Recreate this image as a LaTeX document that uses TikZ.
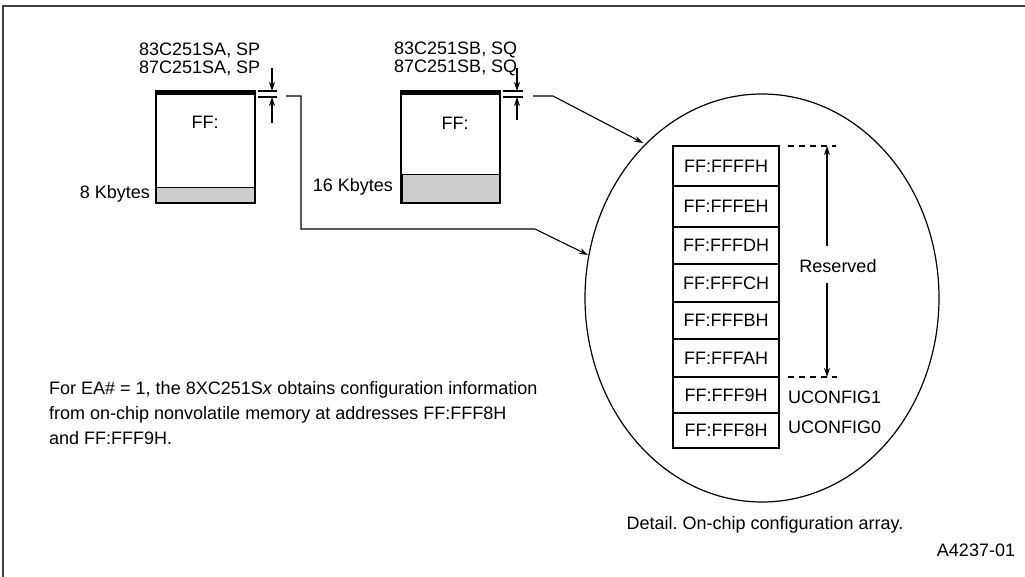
\documentclass[tikz,border=0pt]{standalone}
\usepackage{fontspec}
\setmainfont{Liberation Sans}
\usetikzlibrary{arrows.meta}
\frenchspacing
\begin{document}
\begin{tikzpicture}[x=1pt,y=-1pt,
  txt/.style={font=\fontsize{18}{25}\selectfont, inner sep=0pt},
  cell/.style={draw, line width=2.2pt, minimum width=106pt, inner sep=0pt, font=\fontsize{18}{20}\selectfont},
  memblock/.style={draw, line width=2.2pt, minimum width=99pt, minimum height=110pt, inner sep=0pt},
  arr/.style={line width=1.1pt, -{Stealth[length=9pt,width=6pt]}},
  thinln/.style={line width=1.1pt},
  dashln/.style={line width=1.1pt, dash pattern=on 6pt off 5pt},
  band/.style={fill=black!20, draw, line width=1pt}
]
\useasboundingbox (0,0) rectangle (1025,577);
\draw[line width=1.5pt, black!75] (3,577) -- (3,6) -- (1025,6);

% ---- block 1 ----
\draw[band] (156,188) rectangle (255,203);
\node[memblock] (b1) at (205.5,148) {};
\draw[line width=5pt] ([yshift=-1pt]b1.north west) -- ([yshift=-1pt]b1.north east);
\node[txt] (ff1) at (205,122) {FF:};
\node[txt, anchor=east] (k8) at (150,194) {8 Kbytes};
\node[txt, anchor=west] (l1a) at (139,50) {83C251SA, SP};
\node[txt, anchor=west] (l1b) at (139,68) {87C251SA, SP};
\draw[thinln] (258,91) -- (277,91);
\draw[thinln] (258,97) -- (277,97);
\draw[arr] (272,68) -- (272,91);
\draw[arr] (272,123) -- (272,97);

% ---- block 2 ----
\draw[band] (402,175) rectangle (499,203);
\node[memblock] (b2) at (450.5,148) {};
\draw[line width=5pt] ([yshift=-1pt]b2.north west) -- ([yshift=-1pt]b2.north east);
\node[txt] (ff2) at (455,123) {FF:};
\node[txt, anchor=east] (k16) at (393,187) {16 Kbytes};
\node[txt, anchor=west] (l2a) at (394,50) {83C251SB, SQ};
\node[txt, anchor=west] (l2b) at (394,68) {87C251SB, SQ};
\draw[thinln] (503,91) -- (523,91);
\draw[thinln] (503,97) -- (523,97);
\draw[arr] (517,68) -- (517,91);
\draw[arr] (517,120) -- (517,97);

% ---- detail ellipse ----
\draw[line width=1.2pt] (762,298) ellipse [x radius=177, y radius=204];
\coordinate (e1) at (588,255);
\coordinate (e2) at (643,143);
\coordinate (s1) at (286,96);
\coordinate (s2) at (533,96);
\draw[arr] (s1) -- (301,96) -- (301,229) -- (535,229) -- (e1);
\draw[arr] (s2) -- (553,96) -- (e2);

% ---- table ----
\node[cell, minimum height=40pt] (r1) at (726,166) {FF:FFFFH};
\node[cell, minimum height=41pt] (r2) at (726,206.5) {FF:FFFEH};
\node[cell, minimum height=37pt] (r3) at (726,245.5) {FF:FFFDH};
\node[cell, minimum height=38pt] (r4) at (726,283) {FF:FFFCH};
\node[cell, minimum height=37pt] (r5) at (726,320.5) {FF:FFFBH};
\node[cell, minimum height=38pt] (r6) at (726,358) {FF:FFFAH};
\node[cell, minimum height=36pt] (r7) at (726,395) {FF:FFF9H};
\node[cell, minimum height=35pt] (r8) at (726,430.5) {FF:FFF8H};

\coordinate (rtop) at (827,146);
\coordinate (rbot) at (827,377);
\draw[dashln] (788,146) -- (836,146);
\draw[dashln] (788,377) -- (837,377);
\node[txt] (res) at (838,266) {Reserved};
\draw[arr] (827,246) -- (rtop);
\draw[arr] (827,283) -- (rbot);
\node[txt, anchor=west] (u1) at (788,397) {UCONFIG1};
\node[txt, anchor=west] (u0) at (788,427) {UCONFIG0};

% ---- texts ----
\node[txt, anchor=west, align=left] (para) at (49,413) {For EA\# = 1, the 8XC251S\textit{x} obtains configuration information\\from on-chip nonvolatile memory at addresses FF:FFF8H\\and FF:FFF9H.};
\node[txt] (cap) at (765,525) {Detail. On-chip configuration array.};
\node[txt] (fig) at (976,550) {A4237-01};
\end{tikzpicture}
\end{document}
